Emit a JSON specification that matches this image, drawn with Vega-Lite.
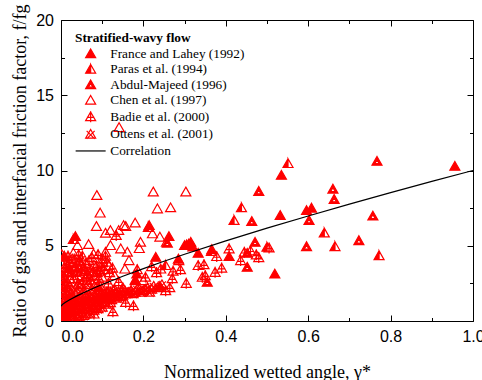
{
  "$schema": "https://vega.github.io/schema/vega-lite/v6.json",
  "width": 412,
  "height": 301,
  "autosize": {"type": "none"},
  "padding": {"left": 61, "top": 20, "right": 9, "bottom": 59},
  "background": "white",
  "config": {
    "view": {"stroke": null},
    "axis": {"labelFont": "Liberation Sans", "labelFontSize": 16, "labelColor": "black", "titleFont": "Liberation Serif", "titleFontSize": 18, "titleFontWeight": "normal", "titleColor": "black", "tickColor": "black", "domainColor": "black", "grid": false, "tickWidth": 1, "domainWidth": 1},
    "legend": {"padding": 0, "titleFont": "Liberation Serif", "titleFontSize": 13.3, "titleFontWeight": "bold", "titleColor": "black", "titlePadding": 3, "labelFont": "Liberation Serif", "labelFontSize": 13.3, "labelColor": "black", "symbolSize": 100, "symbolStrokeWidth": 1.2, "rowPadding": 1.5, "symbolOffset": 9, "labelOffset": 13, "labelLimit": 300}
  },
  "datasets": {
    "corr": [
      {"x": 0, "y": 1.0}, {"x": 0.005, "y": 1.13}, {"x": 0.01, "y": 1.226}, {"x": 0.02, "y": 1.393}, {"x": 0.04, "y": 1.686}, {"x": 0.06, "y": 1.948}, {"x": 0.08, "y": 2.193}, {"x": 0.1, "y": 2.426}, {"x": 0.15, "y": 2.973}, {"x": 0.2, "y": 3.483}, {"x": 0.25, "y": 3.969}, {"x": 0.3, "y": 4.435}, {"x": 0.4, "y": 5.324}, {"x": 0.5, "y": 6.169}, {"x": 0.6, "y": 6.98}, {"x": 0.7, "y": 7.765}, {"x": 0.8, "y": 8.528}, {"x": 0.9, "y": 9.273}, {"x": 1.0, "y": 10.0}
    ],
    "pts": [
      {"s": "Ottens et al. (2001)", "x": 0.003, "y": 0.2}, {"s": "Ottens et al. (2001)", "x": 0.005, "y": 0.5}, {"s": "Ottens et al. (2001)", "x": 0.008, "y": 0.3}, {"s": "Ottens et al. (2001)", "x": 0.01, "y": 0.8}, {"s": "Ottens et al. (2001)", "x": 0.012, "y": 0.4}, {"s": "Ottens et al. (2001)", "x": 0.015, "y": 1.0}, {"s": "Ottens et al. (2001)", "x": 0.018, "y": 0.6}, {"s": "Ottens et al. (2001)", "x": 0.02, "y": 0.2}, {"s": "Ottens et al. (2001)", "x": 0.022, "y": 1.2}, {"s": "Ottens et al. (2001)", "x": 0.025, "y": 0.7}, {"s": "Ottens et al. (2001)", "x": 0.028, "y": 0.4}, {"s": "Ottens et al. (2001)", "x": 0.03, "y": 1.0}, {"s": "Ottens et al. (2001)", "x": 0.033, "y": 1.4}, {"s": "Ottens et al. (2001)", "x": 0.035, "y": 0.6}, {"s": "Ottens et al. (2001)", "x": 0.038, "y": 0.9}, {"s": "Ottens et al. (2001)", "x": 0.04, "y": 1.2}, {"s": "Ottens et al. (2001)", "x": 0.043, "y": 0.5}, {"s": "Ottens et al. (2001)", "x": 0.045, "y": 1.5}, {"s": "Ottens et al. (2001)", "x": 0.048, "y": 1.0}, {"s": "Ottens et al. (2001)", "x": 0.05, "y": 0.8}, {"s": "Ottens et al. (2001)", "x": 0.053, "y": 1.3}, {"s": "Ottens et al. (2001)", "x": 0.056, "y": 1.1}, {"s": "Ottens et al. (2001)", "x": 0.06, "y": 1.6}, {"s": "Ottens et al. (2001)", "x": 0.063, "y": 0.9}, {"s": "Ottens et al. (2001)", "x": 0.066, "y": 1.3}, {"s": "Ottens et al. (2001)", "x": 0.07, "y": 1.1}, {"s": "Ottens et al. (2001)", "x": 0.074, "y": 1.5}, {"s": "Ottens et al. (2001)", "x": 0.078, "y": 1.2}, {"s": "Ottens et al. (2001)", "x": 0.082, "y": 1.6}, {"s": "Ottens et al. (2001)", "x": 0.086, "y": 1.3}, {"s": "Ottens et al. (2001)", "x": 0.09, "y": 1.4}, {"s": "Ottens et al. (2001)", "x": 0.095, "y": 1.7}, {"s": "Ottens et al. (2001)", "x": 0.1, "y": 1.5}, {"s": "Ottens et al. (2001)", "x": 0.105, "y": 1.3}, {"s": "Ottens et al. (2001)", "x": 0.11, "y": 1.7}, {"s": "Ottens et al. (2001)", "x": 0.115, "y": 1.5}, {"s": "Ottens et al. (2001)", "x": 0.12, "y": 1.9}, {"s": "Ottens et al. (2001)", "x": 0.125, "y": 1.6}, {"s": "Ottens et al. (2001)", "x": 0.13, "y": 1.8}, {"s": "Ottens et al. (2001)", "x": 0.135, "y": 1.5}, {"s": "Ottens et al. (2001)", "x": 0.14, "y": 1.9}, {"s": "Ottens et al. (2001)", "x": 0.15, "y": 1.7}, {"s": "Ottens et al. (2001)", "x": 0.155, "y": 2.0}, {"s": "Ottens et al. (2001)", "x": 0.16, "y": 1.8}, {"s": "Ottens et al. (2001)", "x": 0.17, "y": 2.0}, {"s": "Ottens et al. (2001)", "x": 0.18, "y": 1.9}, {"s": "Ottens et al. (2001)", "x": 0.19, "y": 2.1}, {"s": "Ottens et al. (2001)", "x": 0.2, "y": 2.0}, {"s": "Ottens et al. (2001)", "x": 0.21, "y": 2.2}, {"s": "Ottens et al. (2001)", "x": 0.22, "y": 2.1}, {"s": "Ottens et al. (2001)", "x": 0.002, "y": 1.4}, {"s": "Ottens et al. (2001)", "x": 0.004, "y": 1.8}, {"s": "Ottens et al. (2001)", "x": 0.006, "y": 2.2}, {"s": "Ottens et al. (2001)", "x": 0.01, "y": 0.1}, {"s": "Ottens et al. (2001)", "x": 0.015, "y": 0.15}, {"s": "Ottens et al. (2001)", "x": 0.03, "y": 0.25}, {"s": "Ottens et al. (2001)", "x": 0.02, "y": 1.6}, {"s": "Ottens et al. (2001)", "x": 0.012, "y": 1.9}, {"s": "Ottens et al. (2001)", "x": 0.045, "y": 0.3}, {"s": "Ottens et al. (2001)", "x": 0.06, "y": 0.45}, {"s": "Ottens et al. (2001)", "x": 0.08, "y": 0.7}, {"s": "Ottens et al. (2001)", "x": 0.07, "y": 0.5}, {"s": "Ottens et al. (2001)", "x": 0.003, "y": 2.6}, {"s": "Ottens et al. (2001)", "x": 0.008, "y": 3.2}, {"s": "Ottens et al. (2001)", "x": 0.012, "y": 2.4}, {"s": "Ottens et al. (2001)", "x": 0.018, "y": 2.0}, {"s": "Ottens et al. (2001)", "x": 0.025, "y": 1.8}, {"s": "Ottens et al. (2001)", "x": 0.035, "y": 2.1}, {"s": "Ottens et al. (2001)", "x": 0.045, "y": 2.3}, {"s": "Ottens et al. (2001)", "x": 0.055, "y": 2.0}, {"s": "Ottens et al. (2001)", "x": 0.065, "y": 2.4}, {"s": "Ottens et al. (2001)", "x": 0.075, "y": 2.1}, {"s": "Ottens et al. (2001)", "x": 0.085, "y": 2.5}, {"s": "Ottens et al. (2001)", "x": 0.095, "y": 2.3}, {"s": "Ottens et al. (2001)", "x": 0.1, "y": 0.9}, {"s": "Ottens et al. (2001)", "x": 0.11, "y": 1.1}, {"s": "Ottens et al. (2001)", "x": 0.12, "y": 1.2}, {"s": "Ottens et al. (2001)", "x": 0.09, "y": 0.8},
      {"s": "Ottens et al. (2001)", "x": 0.001, "y": 0.5}, {"s": "Ottens et al. (2001)", "x": 0.004, "y": 1.0}, {"s": "Ottens et al. (2001)", "x": 0.007, "y": 1.3}, {"s": "Ottens et al. (2001)", "x": 0.009, "y": 0.6}, {"s": "Ottens et al. (2001)", "x": 0.014, "y": 1.5}, {"s": "Ottens et al. (2001)", "x": 0.016, "y": 0.8}, {"s": "Ottens et al. (2001)", "x": 0.019, "y": 1.3}, {"s": "Ottens et al. (2001)", "x": 0.023, "y": 0.9}, {"s": "Ottens et al. (2001)", "x": 0.026, "y": 1.5}, {"s": "Ottens et al. (2001)", "x": 0.029, "y": 1.1}, {"s": "Ottens et al. (2001)", "x": 0.032, "y": 0.8}, {"s": "Ottens et al. (2001)", "x": 0.036, "y": 1.7}, {"s": "Ottens et al. (2001)", "x": 0.039, "y": 1.4}, {"s": "Ottens et al. (2001)", "x": 0.042, "y": 1.0}, {"s": "Ottens et al. (2001)", "x": 0.047, "y": 1.2}, {"s": "Ottens et al. (2001)", "x": 0.052, "y": 1.7}, {"s": "Ottens et al. (2001)", "x": 0.058, "y": 1.3}, {"s": "Ottens et al. (2001)", "x": 0.062, "y": 1.1}, {"s": "Ottens et al. (2001)", "x": 0.068, "y": 1.7}, {"s": "Ottens et al. (2001)", "x": 0.072, "y": 1.3}, {"s": "Ottens et al. (2001)", "x": 0.076, "y": 1.8}, {"s": "Ottens et al. (2001)", "x": 0.084, "y": 1.5}, {"s": "Ottens et al. (2001)", "x": 0.088, "y": 1.8}, {"s": "Ottens et al. (2001)", "x": 0.092, "y": 1.6}, {"s": "Ottens et al. (2001)", "x": 0.098, "y": 1.9}, {"s": "Ottens et al. (2001)", "x": 0.102, "y": 1.7}, {"s": "Ottens et al. (2001)", "x": 0.108, "y": 1.5}, {"s": "Ottens et al. (2001)", "x": 0.113, "y": 1.9}, {"s": "Ottens et al. (2001)", "x": 0.118, "y": 1.7}, {"s": "Ottens et al. (2001)", "x": 0.123, "y": 1.4}, {"s": "Ottens et al. (2001)", "x": 0.128, "y": 2.0}, {"s": "Ottens et al. (2001)", "x": 0.138, "y": 1.7}, {"s": "Ottens et al. (2001)", "x": 0.145, "y": 1.6}, {"s": "Ottens et al. (2001)", "x": 0.148, "y": 2.0}, {"s": "Ottens et al. (2001)", "x": 0.165, "y": 1.9}, {"s": "Ottens et al. (2001)", "x": 0.175, "y": 1.8}, {"s": "Ottens et al. (2001)", "x": 0.185, "y": 2.1}, {"s": "Ottens et al. (2001)", "x": 0.195, "y": 1.9}, {"s": "Ottens et al. (2001)", "x": 0.205, "y": 2.1}, {"s": "Ottens et al. (2001)", "x": 0.215, "y": 1.9}, {"s": "Ottens et al. (2001)", "x": 0.225, "y": 2.3}, {"s": "Ottens et al. (2001)", "x": 0.235, "y": 2.2}, {"s": "Ottens et al. (2001)", "x": 0.245, "y": 2.4}, {"s": "Ottens et al. (2001)", "x": 0.006, "y": 0.05}, {"s": "Ottens et al. (2001)", "x": 0.025, "y": 0.1}, {"s": "Ottens et al. (2001)", "x": 0.04, "y": 0.2}, {"s": "Ottens et al. (2001)", "x": 0.055, "y": 0.35}, {"s": "Ottens et al. (2001)", "x": 0.065, "y": 0.7}, {"s": "Ottens et al. (2001)", "x": 0.075, "y": 0.9}, {"s": "Ottens et al. (2001)", "x": 0.085, "y": 1.0}, {"s": "Ottens et al. (2001)", "x": 0.095, "y": 1.1},
      {"s": "Badie et al. (2000)", "x": 0.005, "y": 3.0}, {"s": "Badie et al. (2000)", "x": 0.01, "y": 3.5}, {"s": "Badie et al. (2000)", "x": 0.015, "y": 2.6}, {"s": "Badie et al. (2000)", "x": 0.02, "y": 3.9}, {"s": "Badie et al. (2000)", "x": 0.025, "y": 3.2}, {"s": "Badie et al. (2000)", "x": 0.03, "y": 2.8}, {"s": "Badie et al. (2000)", "x": 0.035, "y": 3.6}, {"s": "Badie et al. (2000)", "x": 0.04, "y": 3.0}, {"s": "Badie et al. (2000)", "x": 0.045, "y": 4.0}, {"s": "Badie et al. (2000)", "x": 0.05, "y": 3.3}, {"s": "Badie et al. (2000)", "x": 0.055, "y": 2.7}, {"s": "Badie et al. (2000)", "x": 0.06, "y": 3.8}, {"s": "Badie et al. (2000)", "x": 0.065, "y": 3.1}, {"s": "Badie et al. (2000)", "x": 0.07, "y": 3.5}, {"s": "Badie et al. (2000)", "x": 0.075, "y": 4.2}, {"s": "Badie et al. (2000)", "x": 0.08, "y": 3.0}, {"s": "Badie et al. (2000)", "x": 0.085, "y": 3.6}, {"s": "Badie et al. (2000)", "x": 0.09, "y": 4.4}, {"s": "Badie et al. (2000)", "x": 0.095, "y": 3.3}, {"s": "Badie et al. (2000)", "x": 0.1, "y": 3.9}, {"s": "Badie et al. (2000)", "x": 0.043, "y": 4.4}, {"s": "Badie et al. (2000)", "x": 0.108, "y": 4.3}, {"s": "Badie et al. (2000)", "x": 0.134, "y": 5.67}, {"s": "Badie et al. (2000)", "x": 0.11, "y": 1.9}, {"s": "Badie et al. (2000)", "x": 0.13, "y": 2.1}, {"s": "Badie et al. (2000)", "x": 0.15, "y": 2.2}, {"s": "Badie et al. (2000)", "x": 0.17, "y": 2.0}, {"s": "Badie et al. (2000)", "x": 0.126, "y": 0.6}, {"s": "Badie et al. (2000)", "x": 0.08, "y": 0.45}, {"s": "Badie et al. (2000)", "x": 0.157, "y": 1.22}, {"s": "Badie et al. (2000)", "x": 0.176, "y": 1.0}, {"s": "Badie et al. (2000)", "x": 0.286, "y": 4.0}, {"s": "Badie et al. (2000)", "x": 0.29, "y": 3.4}, {"s": "Badie et al. (2000)", "x": 0.304, "y": 2.49}, {"s": "Badie et al. (2000)", "x": 0.333, "y": 3.67}, {"s": "Badie et al. (2000)", "x": 0.347, "y": 3.73}, {"s": "Badie et al. (2000)", "x": 0.374, "y": 3.22}, {"s": "Badie et al. (2000)", "x": 0.343, "y": 2.89}, {"s": "Badie et al. (2000)", "x": 0.378, "y": 4.27}, {"s": "Badie et al. (2000)", "x": 0.408, "y": 4.78}, {"s": "Badie et al. (2000)", "x": 0.436, "y": 4.0}, {"s": "Badie et al. (2000)", "x": 0.474, "y": 4.38}, {"s": "Badie et al. (2000)", "x": 0.445, "y": 4.55}, {"s": "Badie et al. (2000)", "x": 0.46, "y": 4.65}, {"s": "Badie et al. (2000)", "x": 0.505, "y": 4.84}, {"s": "Badie et al. (2000)", "x": 0.48, "y": 4.2}, {"s": "Badie et al. (2000)", "x": 0.272, "y": 3.3}, {"s": "Badie et al. (2000)", "x": 0.242, "y": 3.44}, {"s": "Badie et al. (2000)", "x": 0.232, "y": 3.2}, {"s": "Badie et al. (2000)", "x": 0.264, "y": 2.2}, {"s": "Badie et al. (2000)", "x": 0.27, "y": 2.8}, {"s": "Badie et al. (2000)", "x": 0.254, "y": 2.0}, {"s": "Badie et al. (2000)", "x": 0.35, "y": 3.0}, {"s": "Badie et al. (2000)", "x": 0.39, "y": 3.5}, {"s": "Badie et al. (2000)", "x": 0.205, "y": 2.9}, {"s": "Badie et al. (2000)", "x": 0.185, "y": 3.4}, {"s": "Badie et al. (2000)", "x": 0.22, "y": 3.6}, {"s": "Badie et al. (2000)", "x": 0.115, "y": 2.5}, {"s": "Badie et al. (2000)", "x": 0.14, "y": 2.6},
      {"s": "Badie et al. (2000)", "x": 0.004, "y": 2.3}, {"s": "Badie et al. (2000)", "x": 0.009, "y": 2.9}, {"s": "Badie et al. (2000)", "x": 0.013, "y": 3.8}, {"s": "Badie et al. (2000)", "x": 0.017, "y": 4.3}, {"s": "Badie et al. (2000)", "x": 0.022, "y": 2.3}, {"s": "Badie et al. (2000)", "x": 0.027, "y": 3.7}, {"s": "Badie et al. (2000)", "x": 0.032, "y": 4.1}, {"s": "Badie et al. (2000)", "x": 0.038, "y": 3.3}, {"s": "Badie et al. (2000)", "x": 0.042, "y": 2.5}, {"s": "Badie et al. (2000)", "x": 0.048, "y": 3.7}, {"s": "Badie et al. (2000)", "x": 0.052, "y": 4.3}, {"s": "Badie et al. (2000)", "x": 0.058, "y": 3.4}, {"s": "Badie et al. (2000)", "x": 0.062, "y": 2.9}, {"s": "Badie et al. (2000)", "x": 0.068, "y": 4.0}, {"s": "Badie et al. (2000)", "x": 0.072, "y": 2.7}, {"s": "Badie et al. (2000)", "x": 0.078, "y": 3.3}, {"s": "Badie et al. (2000)", "x": 0.088, "y": 3.2}, {"s": "Badie et al. (2000)", "x": 0.092, "y": 2.8}, {"s": "Badie et al. (2000)", "x": 0.098, "y": 3.6}, {"s": "Badie et al. (2000)", "x": 0.105, "y": 3.4}, {"s": "Badie et al. (2000)", "x": 0.112, "y": 3.9}, {"s": "Badie et al. (2000)", "x": 0.118, "y": 3.2}, {"s": "Badie et al. (2000)", "x": 0.125, "y": 3.5},
      {"s": "Chen et al. (1997)", "x": 0.141, "y": 12.84}, {"s": "Chen et al. (1997)", "x": 0.087, "y": 8.33}, {"s": "Chen et al. (1997)", "x": 0.224, "y": 8.56}, {"s": "Chen et al. (1997)", "x": 0.303, "y": 8.56}, {"s": "Chen et al. (1997)", "x": 0.095, "y": 7.16}, {"s": "Chen et al. (1997)", "x": 0.234, "y": 7.44}, {"s": "Chen et al. (1997)", "x": 0.266, "y": 7.51}, {"s": "Chen et al. (1997)", "x": 0.086, "y": 6.27}, {"s": "Chen et al. (1997)", "x": 0.157, "y": 6.27}, {"s": "Chen et al. (1997)", "x": 0.18, "y": 6.5}, {"s": "Chen et al. (1997)", "x": 0.12, "y": 6.0}, {"s": "Chen et al. (1997)", "x": 0.108, "y": 5.82}, {"s": "Chen et al. (1997)", "x": 0.14, "y": 6.0}, {"s": "Chen et al. (1997)", "x": 0.152, "y": 6.33}, {"s": "Chen et al. (1997)", "x": 0.222, "y": 5.78}, {"s": "Chen et al. (1997)", "x": 0.24, "y": 5.56}, {"s": "Chen et al. (1997)", "x": 0.193, "y": 5.22}, {"s": "Chen et al. (1997)", "x": 0.256, "y": 5.22}, {"s": "Chen et al. (1997)", "x": 0.04, "y": 5.0}, {"s": "Chen et al. (1997)", "x": 0.067, "y": 5.07}, {"s": "Chen et al. (1997)", "x": 0.12, "y": 5.0}, {"s": "Chen et al. (1997)", "x": 0.145, "y": 4.78}, {"s": "Chen et al. (1997)", "x": 0.161, "y": 4.56}, {"s": "Chen et al. (1997)", "x": 0.165, "y": 4.0}, {"s": "Chen et al. (1997)", "x": 0.007, "y": 4.22}, {"s": "Chen et al. (1997)", "x": 0.027, "y": 4.11}, {"s": "Chen et al. (1997)", "x": 0.079, "y": 4.44}, {"s": "Chen et al. (1997)", "x": 0.108, "y": 4.56}, {"s": "Chen et al. (1997)", "x": 0.1, "y": 4.11}, {"s": "Chen et al. (1997)", "x": 0.116, "y": 3.67}, {"s": "Chen et al. (1997)", "x": 0.063, "y": 2.67}, {"s": "Chen et al. (1997)", "x": 0.023, "y": 2.78}, {"s": "Chen et al. (1997)", "x": 0.2, "y": 2.67}, {"s": "Chen et al. (1997)", "x": 0.181, "y": 2.67}, {"s": "Chen et al. (1997)", "x": 0.155, "y": 3.44}, {"s": "Chen et al. (1997)", "x": 0.06, "y": 3.3}, {"s": "Chen et al. (1997)", "x": 0.08, "y": 3.7}, {"s": "Chen et al. (1997)", "x": 0.035, "y": 3.5}, {"s": "Chen et al. (1997)", "x": 0.015, "y": 3.3}, {"s": "Chen et al. (1997)", "x": 0.05, "y": 2.4}, {"s": "Chen et al. (1997)", "x": 0.1, "y": 2.9}, {"s": "Chen et al. (1997)", "x": 0.13, "y": 3.0}, {"s": "Chen et al. (1997)", "x": 0.002, "y": 3.8}, {"s": "Chen et al. (1997)", "x": 0.002, "y": 2.8}, {"s": "Chen et al. (1997)", "x": 0.002, "y": 4.4}, {"s": "Chen et al. (1997)", "x": 0.03, "y": 4.5}, {"s": "Chen et al. (1997)", "x": 0.19, "y": 4.8}, {"s": "Chen et al. (1997)", "x": 0.045, "y": 3.9},
      {"s": "Abdul-Majeed (1996)", "x": 0.48, "y": 8.6}, {"s": "Abdul-Majeed (1996)", "x": 0.767, "y": 10.6}, {"s": "Abdul-Majeed (1996)", "x": 0.66, "y": 8.75}, {"s": "Abdul-Majeed (1996)", "x": 0.663, "y": 8.07}, {"s": "Abdul-Majeed (1996)", "x": 0.602, "y": 6.67}, {"s": "Abdul-Majeed (1996)", "x": 0.757, "y": 6.96}, {"s": "Abdul-Majeed (1996)", "x": 0.723, "y": 5.33}, {"s": "Abdul-Majeed (1996)", "x": 0.596, "y": 4.93}, {"s": "Abdul-Majeed (1996)", "x": 0.463, "y": 6.6}, {"s": "Abdul-Majeed (1996)", "x": 0.471, "y": 5.22}, {"s": "Abdul-Majeed (1996)", "x": 0.452, "y": 3.56}, {"s": "Abdul-Majeed (1996)", "x": 0.355, "y": 2.56}, {"s": "Abdul-Majeed (1996)", "x": 0.452, "y": 4.49}, {"s": "Abdul-Majeed (1996)", "x": 0.258, "y": 5.16},
      {"s": "Paras et al. (1994)", "x": 0.551, "y": 10.45}, {"s": "Paras et al. (1994)", "x": 0.438, "y": 7.51}, {"s": "Paras et al. (1994)", "x": 0.42, "y": 6.67}, {"s": "Paras et al. (1994)", "x": 0.639, "y": 5.84}, {"s": "Paras et al. (1994)", "x": 0.665, "y": 4.93}, {"s": "Paras et al. (1994)", "x": 0.772, "y": 4.33}, {"s": "Paras et al. (1994)", "x": 0.254, "y": 3.67}, {"s": "Paras et al. (1994)", "x": 0.03, "y": 5.4}, {"s": "Paras et al. (1994)", "x": 0.212, "y": 6.2}, {"s": "Paras et al. (1994)", "x": 0.5, "y": 4.89}, {"s": "Paras et al. (1994)", "x": 0.365, "y": 4.6},
      {"s": "France and Lahey (1992)", "x": 0.956, "y": 10.27}, {"s": "France and Lahey (1992)", "x": 0.535, "y": 9.67}, {"s": "France and Lahey (1992)", "x": 0.596, "y": 7.33}, {"s": "France and Lahey (1992)", "x": 0.608, "y": 7.49}, {"s": "France and Lahey (1992)", "x": 0.532, "y": 7.0}, {"s": "France and Lahey (1992)", "x": 0.519, "y": 3.11}, {"s": "France and Lahey (1992)", "x": 0.214, "y": 6.33}, {"s": "France and Lahey (1992)", "x": 0.262, "y": 5.6}, {"s": "France and Lahey (1992)", "x": 0.315, "y": 5.22}, {"s": "France and Lahey (1992)", "x": 0.3, "y": 5.0}, {"s": "France and Lahey (1992)", "x": 0.31, "y": 5.1}, {"s": "France and Lahey (1992)", "x": 0.32, "y": 4.9}, {"s": "France and Lahey (1992)", "x": 0.333, "y": 4.49}, {"s": "France and Lahey (1992)", "x": 0.366, "y": 4.73}, {"s": "France and Lahey (1992)", "x": 0.408, "y": 4.27}, {"s": "France and Lahey (1992)", "x": 0.23, "y": 4.22}, {"s": "France and Lahey (1992)", "x": 0.184, "y": 3.11}, {"s": "France and Lahey (1992)", "x": 0.091, "y": 2.22}, {"s": "France and Lahey (1992)", "x": 0.035, "y": 5.6}, {"s": "France and Lahey (1992)", "x": 0.008, "y": 4.3}, {"s": "France and Lahey (1992)", "x": 0.24, "y": 2.3}, {"s": "France and Lahey (1992)", "x": 0.305, "y": 5.05}, {"s": "France and Lahey (1992)", "x": 0.285, "y": 4.1}, {"s": "France and Lahey (1992)", "x": 0.18, "y": 2.7}, {"s": "France and Lahey (1992)", "x": 0.02, "y": 3.5}
    ]
  },
  "resolve": {"axis": {"x": "independent", "y": "independent"}},
  "layer": [
    {
      "data": {"name": "pts"},
      "mark": {"type": "point", "opacity": 1, "strokeWidth": 1.2, "size": 100, "clip": true},
      "encoding": {
        "x": {"field": "x", "type": "quantitative", "scale": {"domain": [0, 1], "nice": false, "zero": false},
          "axis": {"orient": "bottom", "values": [0, 0.2, 0.4, 0.6, 0.8, 1], "format": ".1f", "tickSize": -6, "labelPadding": 13.5,
            "labelAlign": {"condition": {"test": "datum.value == 0", "value": "left"}, "value": "center"},
            "title": "Normalized wetted angle, γ*", "titlePadding": 19}},
        "y": {"field": "y", "type": "quantitative", "scale": {"domain": [0, 20], "nice": false, "zero": false},
          "axis": {"orient": "left", "values": [0, 5, 10, 15, 20], "tickSize": -6, "labelPadding": 13.5,
            "title": "Ratio of gas and interfacial friction factor, f/fg", "titlePadding": 6}},
        "shape": {"field": "s", "type": "nominal",
          "scale": {"domain": ["France and Lahey (1992)", "Paras et al. (1994)", "Abdul-Majeed (1996)", "Chen et al. (1997)", "Badie et al. (2000)", "Ottens et al. (2001)", "Correlation"],
            "range": ["M0,-1L1,0.75L-1,0.75Z", "M0,-1L1,0.75L-1,0.75Z M0,-1L0,0.75L1,0.75Z", "M0,-1L1,0.75L-1,0.75Z M0,-0.3L-0.45,0.45L0.45,0.45Z", "M0,-1L1,0.75L-1,0.75Z", "M0,-1L1,0.75L-1,0.75Z M0,-1.15V1.05 M-0.75,0.1H0.75", "M0,-1L1,0.75L-1,0.75Z M-0.8,-0.7L0.8,0.9 M0.8,-0.7L-0.8,0.9", "M-3,0H3"]},
          "legend": {"orient": "none", "legendX": 14, "legendY": 11, "title": "Stratified-wavy flow"}},
        "fill": {"field": "s", "type": "nominal",
          "scale": {"domain": ["France and Lahey (1992)", "Paras et al. (1994)", "Abdul-Majeed (1996)", "Chen et al. (1997)", "Badie et al. (2000)", "Ottens et al. (2001)", "Correlation"],
            "range": ["#ff0000", "#ff0000", "#ff0000", "transparent", "transparent", "transparent", "transparent"]},
          "legend": {"orient": "none", "legendX": 14, "legendY": 11, "title": "Stratified-wavy flow"}},
        "stroke": {"field": "s", "type": "nominal",
          "scale": {"domain": ["France and Lahey (1992)", "Paras et al. (1994)", "Abdul-Majeed (1996)", "Chen et al. (1997)", "Badie et al. (2000)", "Ottens et al. (2001)", "Correlation"],
            "range": ["#ff0000", "#ff0000", "#ff0000", "#ff0000", "#ff0000", "#ff0000", "#000000"]},
          "legend": {"orient": "none", "legendX": 14, "legendY": 11, "title": "Stratified-wavy flow"}}
      }
    },
    {
      "data": {"name": "corr"},
      "mark": {"type": "line", "color": "black", "strokeWidth": 1.2, "clip": true},
      "encoding": {
        "x": {"field": "x", "type": "quantitative", "scale": {"domain": [0, 1], "nice": false, "zero": false},
          "axis": {"orient": "top", "values": [0, 0.2, 0.4, 0.6, 0.8, 1], "labels": false, "tickSize": -6, "title": null}},
        "y": {"field": "y", "type": "quantitative", "scale": {"domain": [0, 20], "nice": false, "zero": false},
          "axis": {"orient": "right", "values": [0, 5, 10, 15, 20], "labels": false, "tickSize": -6, "title": null}}
      }
    },
    {
      "data": {"name": "corr"},
      "mark": {"type": "point", "opacity": 0},
      "encoding": {
        "x": {"field": "x", "type": "quantitative", "scale": {"domain": [0, 1], "nice": false, "zero": false},
          "axis": {"orient": "bottom", "values": [0.1, 0.3, 0.5, 0.7, 0.9], "labels": false, "domain": false, "tickSize": -3.5, "title": null}},
        "y": {"field": "y", "type": "quantitative", "scale": {"domain": [0, 20], "nice": false, "zero": false},
          "axis": {"orient": "left", "values": [2.5, 7.5, 12.5, 17.5], "labels": false, "domain": false, "tickSize": -3.5, "title": null}}
      }
    },
    {
      "data": {"name": "corr"},
      "mark": {"type": "point", "opacity": 0},
      "encoding": {
        "x": {"field": "x", "type": "quantitative", "scale": {"domain": [0, 1], "nice": false, "zero": false},
          "axis": {"orient": "top", "values": [0.1, 0.3, 0.5, 0.7, 0.9], "labels": false, "domain": false, "tickSize": -3.5, "title": null}},
        "y": {"field": "y", "type": "quantitative", "scale": {"domain": [0, 20], "nice": false, "zero": false},
          "axis": {"orient": "right", "values": [2.5, 7.5, 12.5, 17.5], "labels": false, "domain": false, "tickSize": -3.5, "title": null}}
      }
    }
  ]
}
